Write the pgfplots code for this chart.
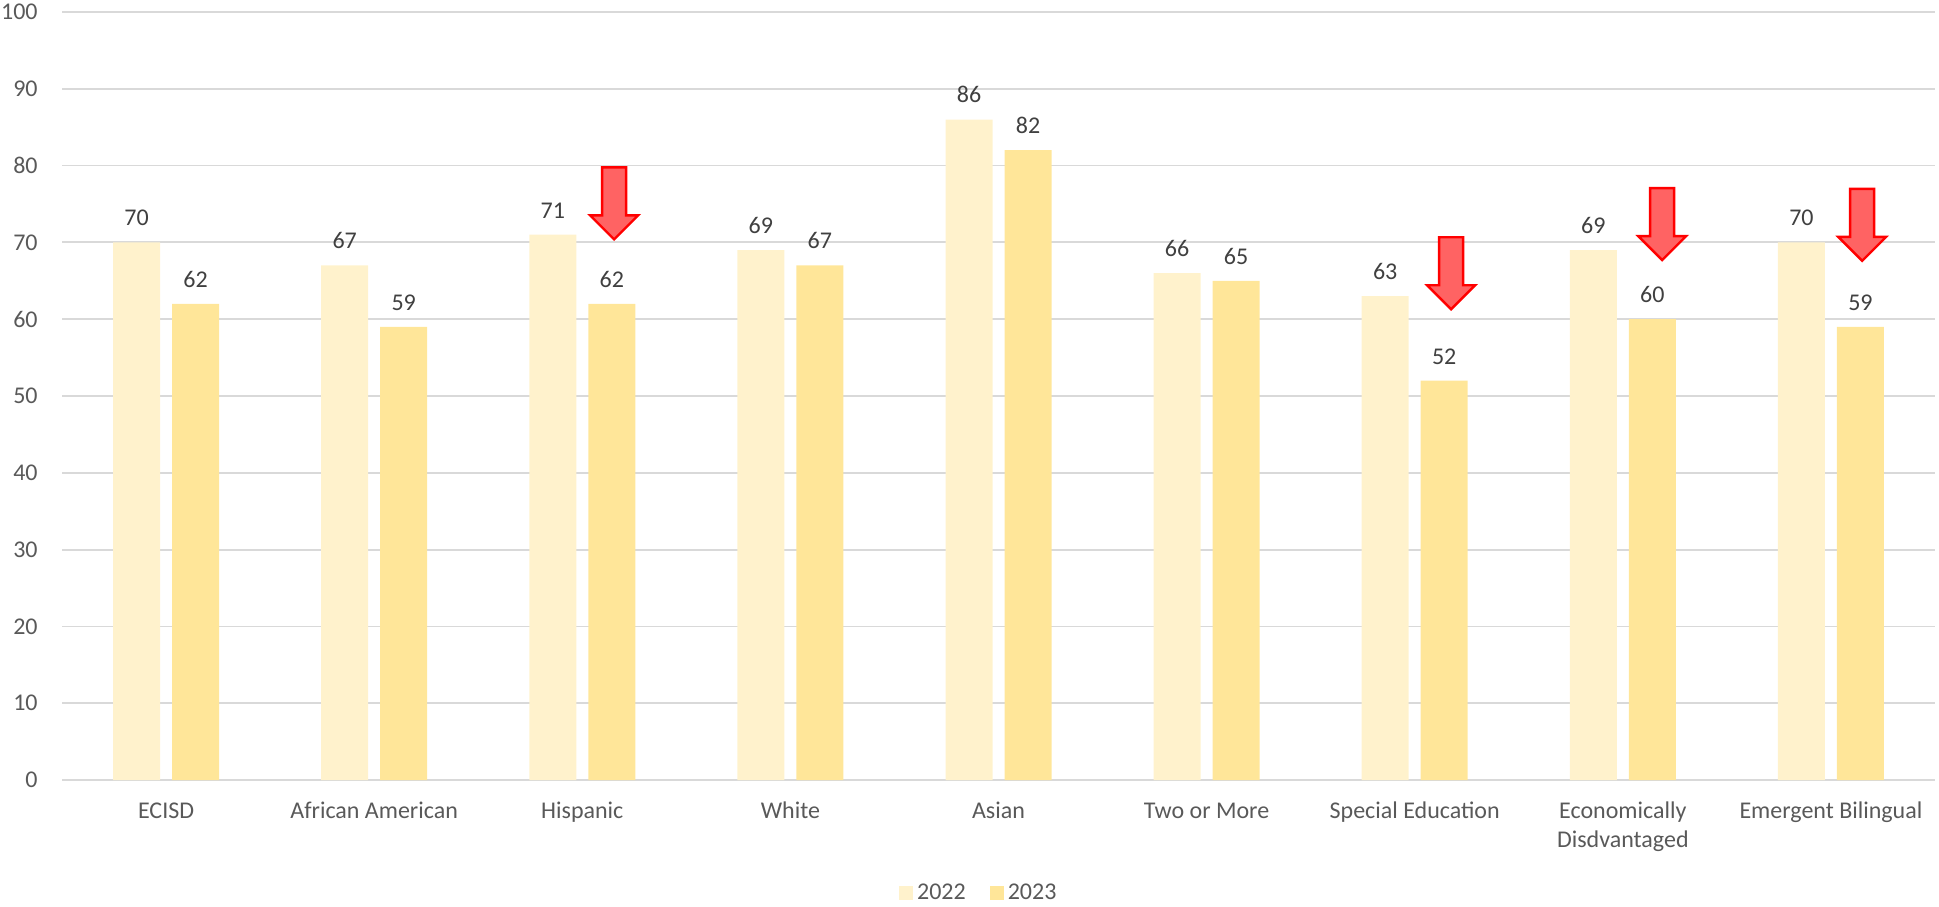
\documentclass[border=0pt]{standalone}
\usepackage{pgfplots}
\pgfplotsset{compat=1.18}
\usepackage{fontspec}
\setmainfont{Carlito}
\definecolor{c22}{HTML}{FFF2CC}
\definecolor{c23}{HTML}{FFE699}
\definecolor{gridc}{HTML}{D9D9D9}
\definecolor{tickc}{HTML}{595959}
\definecolor{labc}{HTML}{404040}
\definecolor{arrfill}{HTML}{FF6363}
\pgfdeclareplotmark{downarrow}{%
  \pgfpathmoveto{\pgfpoint{0pt}{0pt}}%
  \pgfpathlineto{\pgfpoint{-12pt}{12pt}}%
  \pgfpathlineto{\pgfpoint{-6pt}{12pt}}%
  \pgfpathlineto{\pgfpoint{-6pt}{36pt}}%
  \pgfpathlineto{\pgfpoint{6pt}{36pt}}%
  \pgfpathlineto{\pgfpoint{6pt}{12pt}}%
  \pgfpathlineto{\pgfpoint{12pt}{12pt}}%
  \pgfpathclose
  \pgfusepath{fill,stroke}}
\begin{document}
\begin{tikzpicture}
\begin{axis}[
  scale only axis,
  width=936.5pt, height=384pt,
  xmin=-0.5, xmax=8.5, ymin=0, ymax=100,
  ybar=6pt, bar width=23.5pt,
  xtick={0,...,8},
  xticklabels={ECISD, African American, Hispanic, White, Asian, Two or More, Special Education, {\begin{tabular}[t]{@{}c@{}}Economically\\[0pt]Disdvantaged\end{tabular}}, Emergent Bilingual},
  ytick={0,10,...,100},
  ymajorgrids,
  grid style={gridc, line width=0.9pt},
  axis line style={draw=none},
  major tick length=0pt,
  tick label style={font=\fontsize{12}{14.5}\selectfont, text=tickc},
  yticklabel style={anchor=east, inner sep=0pt, xshift=-12pt},
  xticklabel style={anchor=base, yshift=-19pt},
  /pgf/number format/assume math mode=true,
  nodes near coords style={font=\fontsize{12}{14.5}\selectfont, text=labc, anchor=south, yshift=4.7pt},
  legend columns=2,
  legend style={at={(0.49,-0.147)}, anchor=center, draw=none, fill=none, inner sep=0pt,
    nodes={inner sep=2pt},
    font=\fontsize{12}{14.5}\selectfont, text=tickc,
    /tikz/every even column/.append style={column sep=10pt}},
]
\addplot[fill=c22, draw=none, nodes near coords,
  legend image code/.code={\fill[c22] (0pt,-3.5pt) rectangle (7pt,3.5pt);}]
  coordinates {(0,70) (1,67) (2,71) (3,69) (4,86) (5,66) (6,63) (7,69) (8,70)};
\addplot[fill=c23, draw=none, nodes near coords,
  legend image code/.code={\fill[c23] (0pt,-3.5pt) rectangle (7pt,3.5pt);}]
  coordinates {(0,62) (1,59) (2,62) (3,67) (4,82) (5,65) (6,52) (7,60) (8,59)};
\addplot[forget plot, only marks, mark=downarrow, mark options={fill=arrfill, draw=red, line width=1.2pt, miter limit=4}]
  coordinates {(2.153,70.4) (6.175,61.3) (7.189,67.7) (8.150,67.6)};
\legend{2022,2023}
\end{axis}
\path ([xshift=-31pt,yshift=-62.5pt]current axis.south west) rectangle ([xshift=2pt,yshift=6pt]current axis.north east);
\end{tikzpicture}
\end{document}
